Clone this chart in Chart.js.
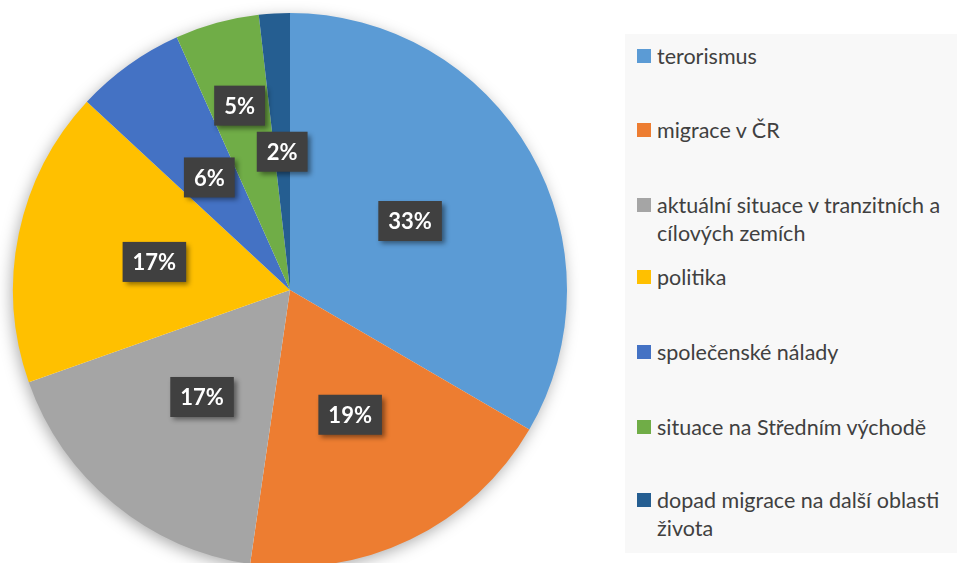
<!DOCTYPE html>
<html>
<head>
<meta charset="utf-8">
<script src="https://cdn.jsdelivr.net/npm/chart.js@4.4.1/dist/chart.umd.min.js"></script>
<style>
	html, body { margin: 0; padding: 0; background: #fff; width: 957px; height: 563px; overflow: hidden; }
	#wrap { position: absolute; left: 0; top: 0; width: 580px; height: 580px; }
	#legend { position: absolute; left: 625px; top: 34px; width: 332px; height: 519px; background: #f8f8f8; font-family: Lato, "Open Sans", sans-serif; font-size: 21.5px; color: #404040; }
	.lg-item { position: absolute; left: 12px; right: 0; line-height: 28px; padding-left: 20px; white-space: nowrap; }
	.lg-box { position: absolute; left: 0; top: 7px; width: 14px; height: 14px; }
</style>
</head>
<body>
<div id="wrap"><canvas id="pie"></canvas></div>
<div id="legend"></div>
<script>
// --- Data ---
const categories = [
	"terorismus",
	"migrace v ČR",
	["aktuální situace v tranzitních a", "cílových zemích"],
	"politika",
	"společenské nálady",
	"situace na Středním východě",
	["dopad migrace na další oblasti", "života"]
];
const values = [33.4, 18.9, 17.3, 17.3, 6.4, 4.9, 1.8];
const colors = ["#5B9BD5", "#ED7D31", "#A5A5A5", "#FFC000", "#4472C4", "#70AD47", "#255E91"];

const total = values.reduce((s, v) => s + v, 0);
const pct = (v) => Math.round(v / total * 100) + "%";

// --- Stín pod koláčem ---
const pieShadow = {
	id: "pieShadow",
	beforeDatasetsDraw(chart) {
		const arc = chart.getDatasetMeta(0).data[0];
		if (!arc) return;
		const ctx = chart.ctx;
		ctx.save();
		ctx.shadowColor = "rgba(0,0,0,0.35)";
		ctx.shadowBlur = 16;
		ctx.shadowOffsetX = -2;
		ctx.shadowOffsetY = 4;
		ctx.fillStyle = "#fff";
		ctx.beginPath();
		ctx.arc(arc.x, arc.y, arc.outerRadius - 1, 0, Math.PI * 2);
		ctx.fill();
		ctx.restore();
	}
};

// --- Popisky s procenty ---
const boxLabels = {
	id: "boxLabels",
	afterDatasetsDraw(chart) {
		const ctx = chart.ctx;
		const push = { 5: 0.69 }; // malý výsek posunutý ven
		chart.getDatasetMeta(0).data.forEach((arc, i) => {
			const mid = (arc.startAngle + arc.endAngle) / 2;
			const r = arc.outerRadius * (push[i] || 0.5);
			const x = arc.x + Math.cos(mid) * r;
			const y = arc.y + Math.sin(mid) * r;
			const txt = pct(values[i]);
			ctx.save();
			ctx.font = "bold 22px Lato, 'Open Sans', sans-serif";
			const w = ctx.measureText(txt).width + 20, h = 40;
			ctx.shadowColor = "rgba(0,0,0,0.45)";
			ctx.shadowBlur = 5;
			ctx.shadowOffsetX = 3;
			ctx.shadowOffsetY = 3;
			ctx.fillStyle = "#404040";
			ctx.fillRect(x - w / 2, y - h / 2, w, h);
			ctx.shadowColor = "transparent";
			ctx.fillStyle = "#fff";
			ctx.textAlign = "center";
			ctx.textBaseline = "middle";
			ctx.fillText(txt, x, y + 1);
			ctx.restore();
		});
	}
};

new Chart(document.getElementById("pie"), {
	type: "pie",
	data: {
		labels: categories,
		datasets: [{ data: values, backgroundColor: colors, borderWidth: 0 }]
	},
	options: {
		responsive: true, maintainAspectRatio: false, animation: false,
		layout: { padding: 13 },
		plugins: { legend: { display: false }, tooltip: { enabled: false } }
	},
	plugins: [pieShadow, boxLabels]
});

// --- Legenda ---
const legendTops = [8, 82, 157, 229, 304, 379, 452];
document.getElementById("legend").innerHTML = categories.map((c, i) => `
	<div class="lg-item" style="top:${legendTops[i]}px">
		<span class="lg-box" style="background:${colors[i]}"></span>${[].concat(c).join("<br>")}
	</div>`).join("");
</script>
</body>
</html>
